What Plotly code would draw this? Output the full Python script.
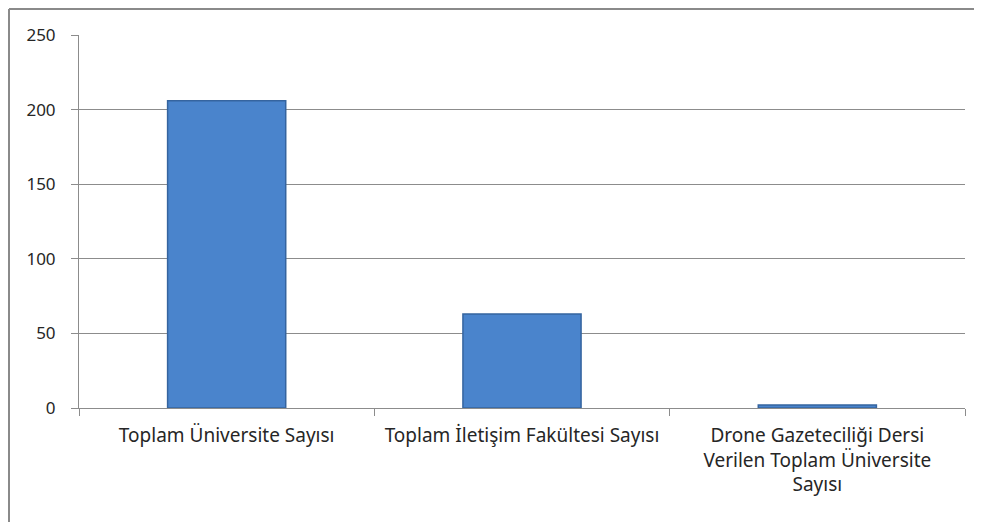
import plotly.graph_objects as go

categories = ["Toplam Üniversite Sayısı",
              "Toplam İletişim Fakültesi Sayısı",
              "Drone Gazeteciliği Dersi<br>Verilen Toplam Üniversite<br>Sayısı"]
values = [206, 63, 2]
y_ticks = [0, 50, 100, 150, 200, 250]

# page body has an 8px margin, so figure coords = page coords - 8
OFF = 8
W, H = 982 - OFF, 522 - OFF
L, R, T, B = 79 - OFF, 17, 35 - OFF, 522 - 408
pw, ph = W - L - R, H - T - B

fig = go.Figure()
fig.add_trace(go.Bar(
    x=categories, y=values,
    marker=dict(color="#4a84cc", line=dict(color="#35649f", width=1.5)),
    width=0.4,
))

def px2paper_x(px):
    return (px - OFF - L) / pw

def px2paper_y(py):
    return (H - B - (py - OFF)) / ph

grid = "#8c8c8c"
fig.update_layout(
    width=W, height=H,
    margin=dict(l=L, r=R, t=T, b=B, pad=0),
    plot_bgcolor="white", paper_bgcolor="white",
    showlegend=False,
    font=dict(family="Noto Sans, sans-serif", size=18, color="#262626"),
    xaxis=dict(
        showgrid=False, showline=True, linecolor=grid, linewidth=1,
        ticks="outside", tickson="boundaries", ticklen=7, tickcolor=grid,
        tickfont=dict(size=19), ticklabelstandoff=10, fixedrange=True,
    ),
    yaxis=dict(
        range=[0, 250], tickvals=y_ticks, showgrid=True, gridcolor=grid, gridwidth=1,
        showline=True, linecolor=grid, linewidth=1, zeroline=False,
        ticks="outside", ticklen=7, tickcolor=grid,
        tickfont=dict(size=17), ticklabelstandoff=12, fixedrange=True,
    ),
    shapes=[
        dict(type="line", xref="paper", yref="paper",
             x0=px2paper_x(9), x1=px2paper_x(9), y0=px2paper_y(9), y1=px2paper_y(540),
             line=dict(color="#8a8a8a", width=2)),
        dict(type="line", xref="paper", yref="paper",
             x0=px2paper_x(9), x1=px2paper_x(1000), y0=px2paper_y(9), y1=px2paper_y(9),
             line=dict(color="#8a8a8a", width=2)),
    ],
)

fig.write_html("out.html")
